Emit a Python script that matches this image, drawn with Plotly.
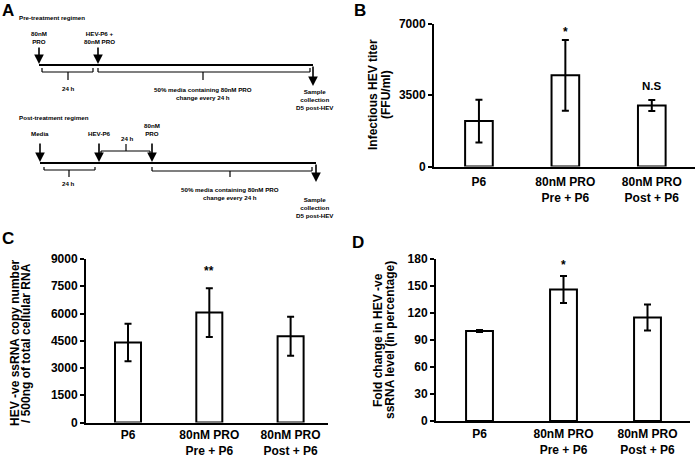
import plotly.graph_objects as go

W, H = 696, 458

categories = ["P6", "80nM PRO<br>Pre + P6", "80nM PRO<br>Post + P6"]

titer_mean = [2230, 4480, 3000]
titer_err = [1050, 1740, 270]
titer_sig = ["", "*", "N.S"]

copy_mean = [4400, 6050, 4750]
copy_err = [1030, 1340, 1070]
copy_sig = ["", "**", ""]

fold_mean = [100, 146, 115]
fold_err = [1, 15, 14.5]
fold_sig = ["", "*", ""]

FONT = "Liberation Sans, Arial, sans-serif"

def px(x):
    return x / W

def py(y):
    return 1 - y / H

def b(s):
    return "<b>" + s.replace("<br>", "</b><br><b>") + "</b>"

fig = go.Figure()

panels = [
    ("x", "y", titer_mean, titer_err, titer_sig, [0, -3, 2], (434, 695), (166.5, 24), [-0.52, 2.5], [0, 7000], [0, 3500, 7000], 3),
    ("x2", "y2", copy_mean, copy_err, copy_sig, [0, 6, 0], (86, 328), (422.5, 259), [-0.517, 2.46], [0, 9000], list(range(0, 9001, 1500)), 0),
    ("x3", "y3", fold_mean, fold_err, fold_sig, [0, 0, 0], (436, 690), (421, 259), [-0.518, 2.506], [0, 180], list(range(0, 181, 30)), 1),
]

xs = [0, 1, 2]
for i, (xa, ya, means, errs, sigs, shifts, xd, yd, xr, yr, tv, stand) in enumerate(panels):
    fig.add_trace(go.Bar(
        x=xs, y=means, xaxis=xa, yaxis=ya, width=0.32,
        marker=dict(color="white", line=dict(color="black", width=2)),
        error_y=dict(type="data", array=errs, visible=True, color="black", thickness=2, width=3.5),
        showlegend=False, hoverinfo="skip",
    ))
    suffix = "" if i == 0 else str(i + 1)
    fig.layout["xaxis" + suffix] = dict(
        domain=[px(xd[0]), px(xd[1])], range=xr, anchor=ya, automargin=False,
        showline=True, linecolor="black", linewidth=2, ticks="", ticklabelstandoff=stand,
        tickvals=xs, ticktext=[b(c) for c in categories], showgrid=False, zeroline=False,
        tickfont=dict(family=FONT, size=12, color="black"),
        fixedrange=True,
    )
    fig.layout["yaxis" + suffix] = dict(
        domain=[py(yd[0]), py(yd[1])], range=yr, anchor=xa, automargin=False,
        showline=True, linecolor="black", linewidth=2, ticks="outside",
        ticklen=4, tickwidth=1.5, tickcolor="black",
        tickvals=tv, ticktext=[b(str(v)) for v in tv], showgrid=False, zeroline=False,
        tickfont=dict(family=FONT, size=12, color="black"),
        fixedrange=True,
    )
    for x, m, e, s, sh in zip(xs, means, errs, sigs, shifts):
        if s:
            fig.add_annotation(x=x, y=m + e, xref=xa, yref=ya, text=b(s), showarrow=False,
                               yanchor="bottom", yshift=(2 if s != "N.S" else 4) + sh,
                               font=dict(family=FONT, size=12 if s != "N.S" else 11.5, color="black"))

# overlay pixel axis for panel A and text
fig.layout["xaxis4"] = dict(domain=[0, 1], range=[0, W], visible=False, fixedrange=True,
                            anchor="y4", automargin=False)
fig.layout["yaxis4"] = dict(domain=[0, 1], range=[H, 0], visible=False, fixedrange=True,
                            anchor="x4", automargin=False)
fig.add_trace(go.Scatter(x=[0], y=[0], xaxis="x4", yaxis="y4", mode="markers",
                         marker=dict(opacity=0), showlegend=False, hoverinfo="skip"))

def text(x, y, t, size=6.2, xanchor="center", yanchor="middle", angle=0):
    fig.add_annotation(x=x, y=y, xref="x4", yref="y4", text=b(t), showarrow=False,
                       xanchor=xanchor, yanchor=yanchor, textangle=angle,
                       font=dict(family=FONT, size=size, color="black"))

def line(x0, y0, x1, y1, w=1.2):
    fig.add_shape(type="line", x0=x0, y0=y0, x1=x1, y1=y1, xref="x4", yref="y4",
                  line=dict(color="black", width=w))

def arrow(x, y0, y1):
    fig.add_annotation(x=x, y=y1, ax=x, ay=y0, xref="x4", yref="y4", axref="x4", ayref="y4",
                       text="", showarrow=True, arrowhead=2, arrowsize=1.2, arrowwidth=1.6,
                       arrowcolor="black", standoff=0, startstandoff=0)

def bracket(x0, x1, y, tickx, ticky, endy):
    line(x0, y, x1, y)
    line(x0, y, x0, endy)
    line(x1, y, x1, endy)
    line(tickx, y, tickx, ticky)

# Panel letters
text(8, 10, "A", size=17)
text(360, 10, "B", size=17)
text(8, 238, "C", size=17)
text(358, 242, "D", size=17)

# Pre-treatment regimen
text(17, 17, "Pre-treatment regimen", xanchor="left")
text(39, 37.5, "80nM<br>PRO")
arrow(39, 46, 64)
text(99, 37.5, "HEV-P6 +<br>80nM PRO")
arrow(98, 46, 64)
line(39, 65, 313, 65, w=2)
arrow(313, 65, 86)
bracket(42, 93, 72, 68, 80, 68)
text(68, 88, "24 h")
bracket(98, 310, 72, 203, 80, 68)
text(203, 93, "50% media containing 80nM PRO<br>change every 24 h")
text(315, 99.5, "Sample<br>collection<br>D5 post-HEV")

# Post-treatment regimen
text(17, 117, "Post-treatment regimen", xanchor="left")
text(40, 133, "Media")
arrow(40, 142, 162)
text(99, 133, "HEV-P6")
arrow(99, 142, 162)
text(127, 138, "24 h")
bracket(101, 150, 151, 126, 144, 155)
text(152, 129.5, "80nM<br>PRO")
arrow(152, 142, 162)
line(40, 163, 316, 163, w=2)
arrow(316, 163, 182)
bracket(44, 95, 170, 69, 177, 167)
text(68, 183, "24 h")
bracket(152, 312, 171, 230, 177, 167)
text(230, 193.5, "50% media containing 80nM PRO<br>change every 24 h")
text(315, 207.5, "Sample<br>collection<br>D5 post-HEV")

# Y axis titles (two lines each)
text(373, 95, "Infectious HEV titer", size=12, angle=-90)
text(386, 95, "(FFU/ml)", size=12, angle=-90)
text(15, 343, "HEV -ve ssRNA copy number", size=12, angle=-90)
text(26, 343, "/ 500ng of total cellular RNA", size=12, angle=-90)
text(378, 340, "Fold change in HEV -ve", size=12, angle=-90)
text(390, 340, "ssRNA level (in percentage)", size=12, angle=-90)

fig.update_layout(
    width=W, height=H, autosize=False,
    margin=dict(l=0, r=0, t=0, b=0, pad=0),
    paper_bgcolor="white", plot_bgcolor="rgba(0,0,0,0)",
    font=dict(family=FONT, color="black"),
    template="none",
)

fig.write_html("out.html", config={"displayModeBar": False},
               post_script="document.body.style.margin='0';document.body.style.overflow='hidden';")
